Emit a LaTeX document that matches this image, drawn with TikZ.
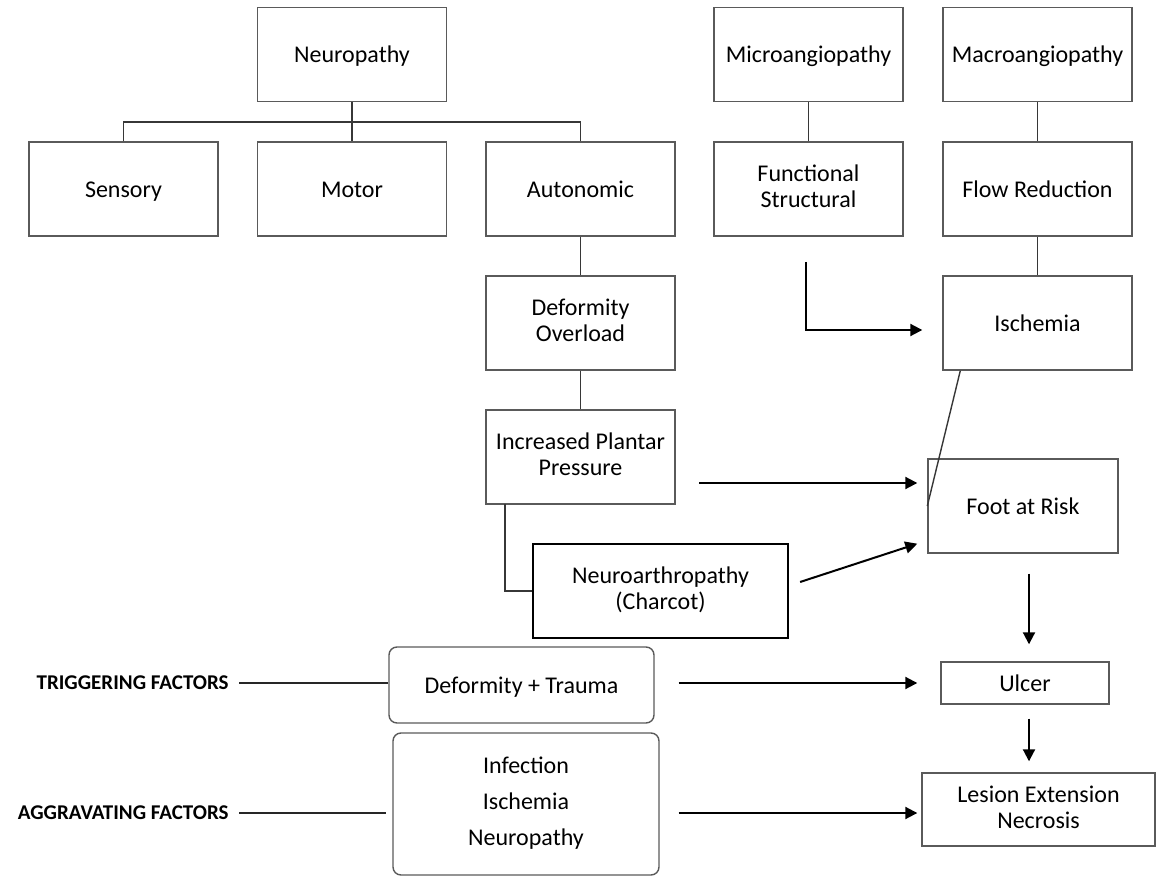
\documentclass[tikz,border=0pt]{standalone}
\usepackage{fontspec}
\setmainfont{Carlito}
\usetikzlibrary{positioning,arrows.meta}
\definecolor{boxgray}{RGB}{90,90,90}
\definecolor{linegray}{RGB}{55,55,55}
\newcommand\boxstrut{\rule[-2.4pt]{0pt}{13pt}}
\tikzset{
  box/.style={draw=boxgray,line width=0.7pt,minimum width=94.5pt,minimum height=47pt,align=center,inner sep=2pt,font=\fontsize{12}{13}\selectfont,
    execute at begin node=\boxstrut,execute at end node=\boxstrut},
  rbox/.style={box,rounded corners=4pt},
  thickbox/.style={box,draw=black,line width=1.1pt},
  tline/.style={draw=linegray,line width=0.7pt},
  fline/.style={draw=black!85,line width=1pt},
  arr/.style={line width=1pt,-{Triangle[length=6pt,width=6pt]}},
  flab/.style={font=\bfseries\fontsize{10.5}{12}\selectfont,anchor=east,inner sep=2.5pt}
}
\begin{document}
\begin{tikzpicture}[x=0.5pt,y=-0.5pt]
  \useasboundingbox (0,0) rectangle (1157,877);
  \node[box] (neuro) at (352,54.5) {Neuropathy};
  \node[box] (sens) at (123.5,189) {Sensory}; \node[box] (motor) at (352,189) {Motor}; \node[box] (auto) at (580.5,189) {Autonomic};
  \node[box] (micro) at (808.5,54.5) {Microangiopathy}; \node[box] (func) at (808.5,189) {Functional\\Structural};
  \node[box] (macro) at (1037.5,54.5) {Macroangiopathy}; \node[box] (flow) at (1037.5,189) {Flow Reduction};
  \node[box] (defo) at (580.5,323) {Deformity\\Overload}; \node[box] (ipp) at (580.5,457) {Increased Plantar\\Pressure};
  \node[box] (isch) at (1037.5,323) {Ischemia};
  \node[box,minimum width=95pt] (foot) at (1023,506) {Foot at Risk};
  \node[thickbox,minimum width=127.5pt] (charcot) at (660.5,591) {Neuroarthropathy\\(Charcot)};
  \node[box,minimum width=84pt,minimum height=21pt] (ulcer) at (1025,683) {Ulcer};
  \node[box,minimum width=116.5pt,minimum height=36.5pt] (lesion) at (1038.5,809.5) {Lesion Extension\\Necrosis};
  \node[rbox,minimum width=132.5pt,minimum height=38pt] (dtrauma) at (521.5,685) {Deformity + Trauma};
  \node[rbox,minimum width=133pt,minimum height=71pt] (aggbox) at (526,804) {Infection\\[5pt]Ischemia\\[5pt]Neuropathy};
  \node[flab] (trig) at (234,683) {TRIGGERING FACTORS}; \node[flab] (aggr) at (234,813) {AGGRAVATING FACTORS};
  \coordinate (bus) at (352,122); \coordinate (fsout) at (806,262); \coordinate (ppout) at (699,483); \coordinate (ippleg) at (505,504);
  \draw[tline] (sens.north) |- (bus) -| (auto.north); \draw[tline] (neuro.south) -- (motor.north);
  \draw[tline] (micro.south) -- (func.north); \draw[tline] (macro.south) -- (flow.north); \draw[tline] (flow.south) -- (isch.north);
  \draw[tline] (auto.south) -- (defo.north); \draw[tline] (defo.south) -- (ipp.north);
  \draw[tline] (ippleg) |- (charcot.west);
  \draw[tline] ([xshift=9pt]isch.south west) -- (foot.west);
  \draw[arr,shorten >=10pt] (fsout) |- ([yshift=-3.5pt]isch.west);
  \draw[arr,shorten >=5pt] (ppout) -- (ppout -| foot.west);
  \draw[arr] ([xshift=5.5pt,yshift=4.5pt]charcot.east) -- ([xshift=-5pt,yshift=5pt]foot.south west);
  \draw[arr,shorten <=10pt,shorten >=8.5pt] ([xshift=3pt]foot.south) -- ([xshift=3pt]foot.south |- ulcer.north);
  \draw[arr,shorten <=7pt,shorten >=5.5pt] ([xshift=2pt]ulcer.south) -- ([xshift=2pt]ulcer.south |- lesion.north);
  \draw[fline,shorten <=2.5pt] (trig.east) -- (trig.east -| dtrauma.west);
  \draw[arr,shorten <=12pt,shorten >=11.5pt] (trig.east -| dtrauma.east) -- (trig.east -| ulcer.west);
  \draw[fline,shorten <=2.5pt,shorten >=3pt] (aggr.east) -- (aggr.east -| aggbox.west);
  \draw[arr,shorten <=9.5pt,shorten >=2pt] (aggr.east -| aggbox.east) -- (aggr.east -| lesion.west);
\end{tikzpicture}
\end{document}
